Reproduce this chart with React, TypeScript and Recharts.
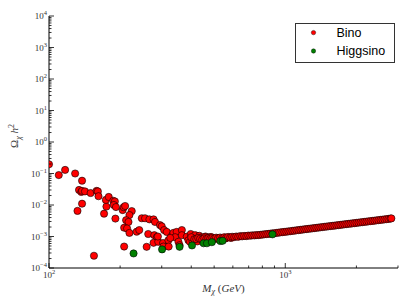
import React from 'react';
import { ScatterChart, Scatter, XAxis, YAxis, Legend } from 'recharts';

// scattered low-mass bino points [M_chi (GeV), Omega h^2]
const binoScatter: [number, number][] = [
  [100, 0.196], [110, 0.089], [117, 0.13], [129, 0.1], [138, 0.059], [134, 0.03],
  [137, 0.026], [138, 0.028], [142, 0.027], [150, 0.024], [159, 0.028], [161, 0.027],
  [162, 0.019], [138, 0.011], [132, 0.0065], [155, 0.000245], [171, 0.0053], [175, 0.0089],
  [174, 0.0145], [179, 0.018], [187, 0.0136], [190, 0.013], [188, 0.01], [192, 0.0086],
  [191, 0.0037], [205, 0.0069], [207, 0.0085], [210, 0.0093], [208, 0.0019], [208, 0.00048],
  [224, 0.0064], [219, 0.0048], [212, 0.0033], [217, 0.0029], [214, 0.0018], [219, 0.0013],
  [235, 0.00142], [241, 0.0016], [247, 0.0038], [255, 0.0038], [266, 0.0035], [277, 0.0035],
  [281, 0.0029], [295, 0.0023], [300, 0.0021], [307, 0.0016], [315, 0.0014], [259, 0.00047],
  [263, 0.0012], [279, 0.0011], [286, 0.00095], [277, 0.00063], [290, 0.00068], [304, 0.00062],
  [305, 0.00048], [320, 0.00076], [331, 0.00104], [336, 0.0013], [347, 0.0014], [342, 0.00095],
  [353, 0.00068], [321, 0.00048], [357, 0.00053], [365, 0.0016], [365, 0.0011], [383, 0.00099],
  [389, 0.00076], [395, 0.00068], [409, 0.0009], [422, 0.00105], [430, 0.00078], [326, 0.0009],
  [289, 0.001],
];

// the dense bino band above ~400 GeV
const binoBand: [number, number][] = [
  [398, 0.0012], [405, 0.00072], [415, 0.0011], [425, 0.0007], [433, 0.00105], [448, 0.00074],
  [460, 0.001], [400, 0.00095], [412, 0.00082], [440, 0.00093], [458, 0.00078], [475, 0.00094],
  [495, 0.00082], [515, 0.00084], [535, 0.00086], [560, 0.00087], [590, 0.0009], [455, 0.00096],
  [485, 0.00097],
  [420, 0.00083], [428, 0.0009], [436, 0.00085], [445, 0.0008], [454, 0.00087], [463, 0.00083],
  [472, 0.00089], [481, 0.00085], [491, 0.0009], [500, 0.00086], [510, 0.00092], [520, 0.00088],
  [530, 0.00093], [541, 0.00089], [552, 0.00095], [562, 0.00091], [573, 0.00097], [585, 0.00094],
  [596, 0.00098], [608, 0.00096], [620, 0.001], [632, 0.00098], [645, 0.00103], [657, 0.00101],
  [670, 0.00104], [684, 0.00103], [697, 0.00107], [711, 0.00106], [725, 0.00109], [740, 0.00108],
  [754, 0.00111], [769, 0.00111], [784, 0.00113], [800, 0.00115], [815, 0.00117], [831, 0.00119],
  [847, 0.00121], [864, 0.00123], [881, 0.00126], [898, 0.00127], [916, 0.0013], [934, 0.00132],
  [952, 0.00135], [971, 0.00137], [990, 0.0014], [1010, 0.00142], [1030, 0.00145], [1050, 0.00147],
  [1071, 0.00151], [1092, 0.00153], [1114, 0.00157], [1136, 0.00159], [1158, 0.00163], [1181, 0.00165],
  [1204, 0.00169], [1227, 0.00172], [1251, 0.00175], [1276, 0.00178], [1301, 0.00181], [1327, 0.00185],
  [1353, 0.00188], [1380, 0.00192], [1407, 0.00195], [1435, 0.00199], [1463, 0.00203], [1492, 0.00206],
  [1521, 0.0021], [1551, 0.00214], [1582, 0.00218], [1613, 0.00221], [1645, 0.00226], [1677, 0.00229],
  [1710, 0.00234], [1744, 0.00238], [1778, 0.00243], [1813, 0.00247], [1849, 0.00252], [1886, 0.00256],
  [1923, 0.00261], [1961, 0.00265], [2000, 0.00271], [2040, 0.00275], [2080, 0.00281], [2121, 0.00285],
  [2162, 0.00291], [2205, 0.00296], [2248, 0.00302], [2293, 0.00307], [2338, 0.00313], [2384, 0.00318],
  [2431, 0.00325], [2479, 0.0033], [2528, 0.00337], [2577, 0.00342], [2628, 0.00349], [2680, 0.00355],
  [2732, 0.00362], [2785, 0.0037], [2812, 0.00376],
];

const higgsino: [number, number][] = [
  [228, 0.00029], [301, 0.00039], [357, 0.00047], [403, 0.00052], [451, 0.00061],
  [466, 0.00061], [489, 0.00066], [531, 0.00072], [543, 0.00073], [883, 0.00117],
];

const xTicks = [100, 200, 300, 400, 500, 600, 700, 800, 900, 1000, 2000, 3000];
const yDecades = [-4, -3, -2, -1, 0, 1, 2, 3, 4];
const minorSteps = [2, 3, 4, 5, 6, 7, 8, 9];
const yTicks: number[] = [];
yDecades.forEach((d) => {
  yTicks.push(Math.pow(10, d));
  if (d < 4) minorSteps.forEach((m) => yTicks.push(m * Math.pow(10, d)));
});

const toPts = (arr: [number, number][]) => arr.map(([x, y]) => ({ x, y }));
const binoData = toPts([...binoScatter, ...binoBand]);
const higgsData = toPts(higgsino);

const SERIF = '"Liberation Serif", "DejaVu Serif", serif';

const expOf = (v: number) => {
  const l = Math.log10(v);
  const r = Math.round(l);
  return Math.abs(l - r) < 1e-6 ? r : null;
};
const expText = (e: number) => (e < 0 ? '\u2212' + -e : String(e));

const Tick = (props: any) => {
  const { x, y, payload, side } = props;
  const e = expOf(payload.value);
  const len = e !== null ? 5 : 2.5;
  let line;
  if (side === 'bottom') line = <line x1={x} y1={y} x2={x} y2={y - len} />;
  else if (side === 'top') line = <line x1={x} y1={y} x2={x} y2={y + len} />;
  else if (side === 'left') line = <line x1={x} y1={y} x2={x + len} y2={y} />;
  else line = <line x1={x} y1={y} x2={x - len} y2={y} />;
  return (
    <g>
      <g stroke="#000" strokeWidth={0.8}>{line}</g>
      {e !== null && side === 'bottom' && (
        <text x={x} y={y + 10} textAnchor="middle" fontFamily={SERIF} fontSize={9} fill="#333">
          10<tspan dy={-4} fontSize={6.5}>{expText(e)}</tspan>
        </text>
      )}
      {e !== null && side === 'left' && (
        <text x={x - 2} y={y + 3} textAnchor="end" fontFamily={SERIF} fontSize={9} fill="#333">
          10<tspan dy={-4} fontSize={6.5}>{expText(e)}</tspan>
        </text>
      )}
    </g>
  );
};

const XLabel = (props: any) => {
  const vb = props.viewBox;
  return (
    <text x={vb.x + vb.width / 2} y={vb.y + 23.5} textAnchor="middle" fontFamily={SERIF} fontSize={11} fill="#333">
      <tspan fontStyle="italic">M</tspan>
      <tspan fontStyle="italic" fontSize={8} dy={2.5}>χ</tspan>
      <tspan dy={-2.5}> (</tspan>
      <tspan fontStyle="italic">GeV</tspan>
      <tspan>)</tspan>
    </text>
  );
};

const YLabel = (props: any) => {
  const vb = props.viewBox;
  const cx = vb.x + 18;
  const cy = vb.y + vb.height / 2 - 6;
  return (
    <text x={cx} y={cy} transform={`rotate(-90, ${cx}, ${cy})`} textAnchor="middle" fontFamily={SERIF} fontSize={11} fill="#333">
      <tspan>Ω</tspan>
      <tspan fontStyle="italic" fontSize={8} dy={2.5}>χ</tspan>
      <tspan dy={-2.5} fontStyle="italic"> h</tspan>
      <tspan fontSize={8} dy={-4}>2</tspan>
    </text>
  );
};

const dot = (fill: string) => (p: any) => (
  <circle cx={p.cx} cy={p.cy} r={3.6} fill={fill} stroke="#000" strokeWidth={0.6} />
);

const LegendBox = () => (
  <svg width={100} height={40} style={{ display: 'block' }}>
    <rect x={0.5} y={0.5} width={99} height={39} fill="#fff" stroke="#333" strokeWidth={1} />
    <circle cx={18.5} cy={9.6} r={2.2} fill="#ff0000" stroke="#000" strokeWidth={0.4} />
    <circle cx={18.5} cy={28} r={2.2} fill="#008000" stroke="#000" strokeWidth={0.4} />
    <text x={41.5} y={14} fontFamily='"Liberation Sans", Arial, sans-serif' fontSize={12.5} fill="#000">Bino</text>
    <text x={41.5} y={32.3} fontFamily='"Liberation Sans", Arial, sans-serif' fontSize={12.5} fill="#000">Higgsino</text>
  </svg>
);

export default function App() {
  return (
    <div style={{ position: 'absolute', left: 0, top: 0, width: 409, height: 307, background: '#fff' }}>
      <ScatterChart width={409} height={307} margin={{ top: 16, right: 11, bottom: 0, left: 0 }}>
        <XAxis
          xAxisId="bottom" dataKey="x" type="number" scale="log" domain={[100, 3000]} allowDataOverflow
          ticks={xTicks} interval={0} tickSize={0} tickMargin={0} height={39}
          axisLine={{ stroke: '#000', strokeWidth: 1 }} tickLine={false}
          tick={<Tick side="bottom" />} label={<XLabel />}
        />
        <XAxis
          xAxisId="top" orientation="top" dataKey="x" type="number" scale="log" domain={[100, 3000]} allowDataOverflow
          ticks={xTicks} interval={0} tickSize={0} tickMargin={0} height={0}
          axisLine={{ stroke: '#000', strokeWidth: 1 }} tickLine={false}
          tick={<Tick side="top" />}
        />
        <YAxis
          yAxisId="left" dataKey="y" type="number" scale="log" domain={[1e-4, 1e4]} allowDataOverflow
          ticks={yTicks} interval={0} tickSize={0} tickMargin={0} width={49}
          axisLine={{ stroke: '#000', strokeWidth: 1 }} tickLine={false}
          tick={<Tick side="left" />} label={<YLabel />}
        />
        <YAxis
          yAxisId="right" orientation="right" dataKey="y" type="number" scale="log" domain={[1e-4, 1e4]} allowDataOverflow
          ticks={yTicks} interval={0} tickSize={0} tickMargin={0} width={0}
          axisLine={{ stroke: '#000', strokeWidth: 1 }} tickLine={false}
          tick={<Tick side="right" />}
        />
        <Legend
          layout="vertical" align="center" verticalAlign="middle"
          content={() => <LegendBox />}
          wrapperStyle={{ left: 295, top: 23, width: 100, height: 40 }}
        />
        <Scatter name="Bino" data={binoData} xAxisId="bottom" yAxisId="left" shape={dot('#ff0000')} isAnimationActive={false} />
        <Scatter name="Higgsino" data={higgsData} xAxisId="bottom" yAxisId="left" shape={dot('#008000')} isAnimationActive={false} />
      </ScatterChart>
    </div>
  );
}
